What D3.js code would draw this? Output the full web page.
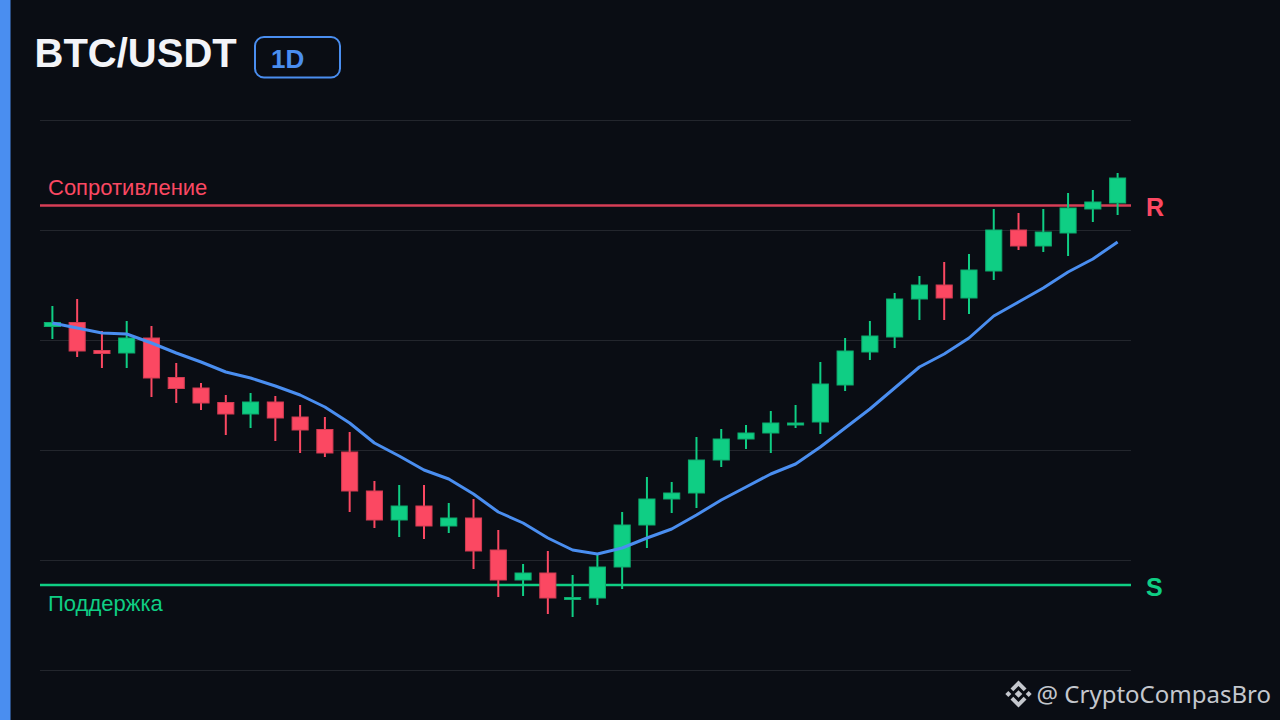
<!DOCTYPE html>
<html>
<head>
<meta charset="utf-8">
<script src="https://cdn.jsdelivr.net/npm/d3@7"></script>
<style>
	html, body { margin: 0; padding: 0; background: #0a0d14; overflow: hidden; }
	text { font-family: "Liberation Sans", sans-serif; }
</style>
</head>
<body>
<script>
const w = 1280;
const h = 720;

// no price axis in the picture, so values are read as height above the lowest grid line
const days = d3.range(1, 45);
const opens = [343.5, 347.5, 319.5, 317, 332, 292.5, 282, 267.5, 256, 268, 253, 240.5, 218, 179, 150, 164, 144, 152, 120, 90, 97, 70.5, 72, 103, 145, 171, 177, 210, 231, 237, 245, 248, 285, 318, 333, 371, 385, 372, 399, 440, 424, 437, 461, 467];
const closes = [347.5, 319, 316.5, 332, 292, 281.5, 267, 256, 268, 252, 240, 217, 179, 150, 164, 144, 152, 119, 90, 97, 72, 72.5, 103, 145, 171, 177, 210, 231, 237, 247, 247, 286, 319, 334, 371, 385, 372, 400, 440, 424, 438, 462, 468, 492];
const highs = [364, 371, 339, 349, 344, 307, 287, 275, 277, 274, 265, 253, 238, 189, 185, 185, 167, 171, 140, 106, 119, 95, 116, 158, 193, 188, 233, 241, 245, 259, 265, 308, 332, 349, 377, 394, 408, 416, 461, 457, 461, 477, 480, 497];
const lows = [331, 313, 302, 302, 273, 267, 260, 235, 242, 229, 217, 213, 158, 142, 133, 131, 137, 101, 73, 74, 56, 53, 65, 81, 122, 157, 162, 203, 221, 217, 242, 236, 279, 310, 322, 350, 350, 356, 390, 420, 418, 414, 448, 455];
const ma = [347, 342, 337, 336, 327, 317, 308, 298, 292, 284, 275, 263, 247, 227, 214, 200, 191, 176, 158, 147, 132, 120, 116, 122, 132, 141, 155, 170, 183, 196, 206, 223, 242, 261, 282, 303, 316, 332, 354, 368, 382, 398, 411, 428];
const gridValues = [0, 110, 220, 330, 440, 550];
const resistance = 464.5;
const support = 85;

const green = "#0fce84";
const red = "#fb4862";
const blue = "#4a8ef0";

const svg = d3.select("body")
	.append("svg")
	.attr("width", w)
	.attr("height", h)
	.style("display", "block");

svg.append("rect")
	.attr("width", 10.5)
	.attr("height", h)
	.attr("fill", blue);

// header
svg.append("text")
	.attr("x", 34.5)
	.attr("y", 67)
	.attr("font-size", 40)
	.attr("font-weight", "bold")
	.attr("fill", "#f3f4f8")
	.text("BTC/USDT");

svg.append("rect")
	.attr("x", 255)
	.attr("y", 37)
	.attr("width", 85)
	.attr("height", 40.5)
	.attr("rx", 9)
	.attr("fill", "none")
	.attr("stroke", blue)
	.attr("stroke-width", 2);

svg.append("text")
	.attr("x", 271)
	.attr("y", 68)
	.attr("font-size", 26)
	.attr("font-weight", "bold")
	.attr("fill", blue)
	.text("1D");

const xScale = d3.scaleBand()
	.domain(days)
	.range([40, 1130])
	.paddingInner(0.35)
	.paddingOuter(0.175);

const yScale = d3.scaleLinear()
	.domain([0, 550])
	.range([670, 120]);

// grid lines
const yAxis = d3.axisLeft(yScale)
	.tickValues(gridValues)
	.tickSize(-1091)
	.tickFormat("");

const gridG = svg.append("g")
	.attr("transform", "translate(40, 0)")
	.call(yAxis);
gridG.select(".domain").remove();
gridG.selectAll("line").attr("stroke", "#23262d").attr("stroke-width", 1);

// support and resistance
svg.append("line")
	.attr("x1", 40)
	.attr("x2", 1131)
	.attr("y1", yScale(resistance))
	.attr("y2", yScale(resistance))
	.attr("stroke", red)
	.attr("stroke-opacity", 0.85)
	.attr("stroke-width", 2.4);

svg.append("line")
	.attr("x1", 40)
	.attr("x2", 1131)
	.attr("y1", yScale(support))
	.attr("y2", yScale(support))
	.attr("stroke", green)
	.attr("stroke-width", 2.4);

svg.append("text")
	.attr("x", 48)
	.attr("y", 195)
	.attr("font-size", 22)
	.attr("fill", red)
	.text("Сопротивление");

svg.append("text")
	.attr("x", 48)
	.attr("y", 611)
	.attr("font-size", 22)
	.attr("fill", green)
	.text("Поддержка");

svg.append("text")
	.attr("x", 1146)
	.attr("y", 216)
	.attr("font-size", 25)
	.attr("font-weight", "bold")
	.attr("fill", red)
	.text("R");

svg.append("text")
	.attr("x", 1146)
	.attr("y", 596)
	.attr("font-size", 25)
	.attr("font-weight", "bold")
	.attr("fill", green)
	.text("S");

// candles
const center = (d) => xScale(d) + xScale.bandwidth() / 2;
const col = (i) => closes[i] >= opens[i] ? green : red;

svg.selectAll("line.wick")
	.data(days)
	.enter()
	.append("line")
	.attr("class", "wick")
	.attr("x1", (d) => center(d))
	.attr("x2", (d) => center(d))
	.attr("y1", (d, i) => yScale(highs[i]))
	.attr("y2", (d, i) => yScale(lows[i]))
	.attr("stroke", (d, i) => col(i))
	.attr("stroke-width", 2);

svg.selectAll("rect.body")
	.data(days)
	.enter()
	.append("rect")
	.attr("class", "body")
	.attr("x", (d) => xScale(d))
	.attr("y", (d, i) => yScale(Math.max(opens[i], closes[i])))
	.attr("width", xScale.bandwidth())
	.attr("height", (d, i) => Math.abs(yScale(opens[i]) - yScale(closes[i])))
	.attr("fill", (d, i) => col(i))
	.attr("stroke", (d, i) => d3.color(col(i)).darker(0.5))
	.attr("stroke-width", 1);

// moving average
const maLine = d3.line()
	.x((d, i) => center(days[i]))
	.y((d) => yScale(d));

svg.append("path")
	.datum(ma)
	.attr("d", maLine)
	.attr("fill", "none")
	.attr("stroke", blue)
	.attr("stroke-width", 3)
	.attr("stroke-linejoin", "round");

// footer mark
const logo = svg.append("g")
	.attr("transform", "translate(1018.5, 694)")
	.attr("fill", "#c4c7cd");
logo.append("path").attr("d", "M0,-13.5 L8,-5.5 L5.2,-2.7 L0,-8 L-5.2,-2.7 L-8,-5.5 Z");
logo.append("path").attr("d", "M0,13.5 L8,5.5 L5.2,2.7 L0,8 L-5.2,2.7 L-8,5.5 Z");
logo.append("path").attr("d", "M0,-3.8 L3.8,0 L0,3.8 L-3.8,0 Z");
logo.append("path").attr("d", "M-10.2,-3 L-7.2,0 L-10.2,3 L-13.2,0 Z");
logo.append("path").attr("d", "M10.2,-3 L13.2,0 L10.2,3 L7.2,0 Z");

svg.append("text")
	.attr("x", 1271)
	.attr("y", 703)
	.attr("text-anchor", "end")
	.attr("font-size", 24)
	.attr("fill", "#c4c7cd")
	.style("font-family", "'Noto Sans'")
	.text("@ CryptoCompasBro");
</script>
</body>
</html>
